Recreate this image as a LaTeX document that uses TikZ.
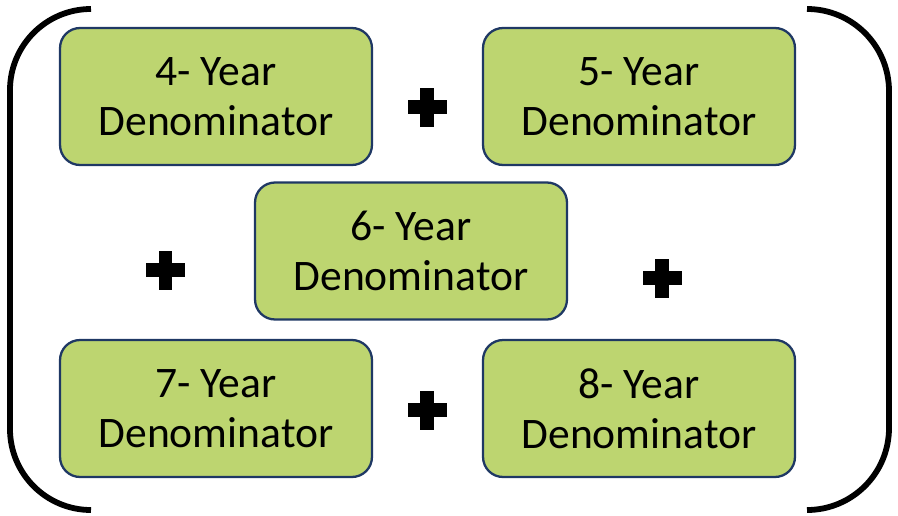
\documentclass[tikz,border=0pt]{standalone}
\usepackage{fontspec}
\setmainfont{Carlito}
\usetikzlibrary{positioning}
\definecolor{boxgreen}{RGB}{189,213,112}
\definecolor{boxnavy}{RGB}{31,56,100}
\tikzset{
  yearbox/.style={draw=boxnavy, line width=1.3pt, fill=boxgreen, rounded corners=0.4cm,
    minimum width=6.24cm, minimum height=2.74cm, inner sep=0pt, align=center,
    font=\fontsize{24.8}{28.6}\selectfont},
  bracket/.style={line width=3.3pt}
}
\newcommand{\plusmark}[2]{%
  \fill (#1-19.5,#2-6.75) rectangle (#1+19.5,#2+6.75);
  \fill (#1-6.75,#2-19.5) rectangle (#1+6.75,#2+19.5);}
\begin{document}
\begin{tikzpicture}[x=0.02cm, y=0.02cm]
\useasboundingbox (0,0) rectangle (898,515);
% Cajas
\node[yearbox] (y4) at (216,418.5) {4- Year\\Denominator};
\node[yearbox] (y5) at (639,418.5) {5- Year\\Denominator};
\node[yearbox] (y6) at (411,264) {6- Year\\Denominator};
\node[yearbox] (y7) at (216,106.5) {7- Year\\Denominator};
\node[yearbox] (y8) at (639,106.5) {8- Year\\Denominator};
% Signos
\plusmark{427}{408}
\plusmark{165.5}{245}
\plusmark{662}{237}
\plusmark{427}{105}
% Parentesis
\draw[bracket] (91,506) arc[start angle=90, end angle=180, radius=81] -- (10,86)
  arc[start angle=180, end angle=270, radius=81];
\draw[bracket] (807,506) arc[start angle=90, end angle=0, radius=82] -- (889,87)
  arc[start angle=0, end angle=-90, radius=82];
\end{tikzpicture}
\end{document}
